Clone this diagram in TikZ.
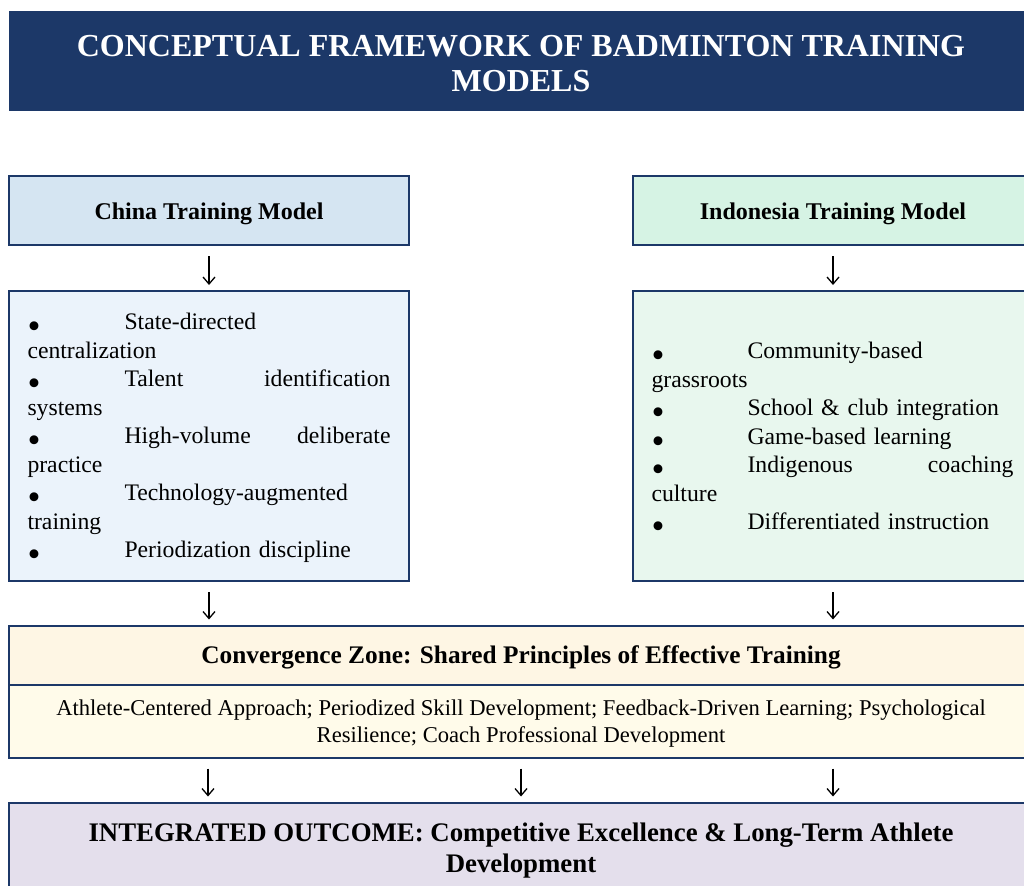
\documentclass[tikz,border=0pt]{standalone}
\usepackage{fontspec}
\setmainfont{Liberation Serif}
\usetikzlibrary{arrows.meta}

\definecolor{navy}{HTML}{1C3868}
\definecolor{chinahead}{HTML}{D5E5F2}
\definecolor{chinalist}{HTML}{EBF3FB}
\definecolor{indohead}{HTML}{D6F3E4}
\definecolor{indolist}{HTML}{E8F7EE}
\definecolor{convhead}{HTML}{FEF6E4}
\definecolor{convbody}{HTML}{FFFBEA}
\definecolor{outcome}{HTML}{E4DFEC}

\newcommand{\bul}[1]{\makebox[#1][l]{\smash{\raisebox{-9pt}{\fontsize{37}{0}\selectfont •}}}}
\newcommand{\jline}[1]{\makebox[266pt][s]{\spaceskip=0.25em plus 1fil\relax #1}}

\begin{document}
\begin{tikzpicture}[x=1pt,y=-1pt,
    box/.style={draw=navy, line width=2pt, inner sep=0pt, align=center},
    headbox/.style={box, minimum width=400pt, minimum height=69pt,
        text height=19pt, text depth=0pt, font=\bfseries\fontsize{24}{28}\selectfont},
    listbox/.style={box, minimum width=400pt, minimum height=290pt,
        text width=363pt, align=left, font=\fontsize{23.7}{28.5}\selectfont},
    widebox/.style={box, minimum width=1024pt},
    arrow/.style={-{Straight Barb[length=7pt,width=12pt]}, line width=1.3pt,
        shorten <=10pt, shorten >=5pt}]
    \useasboundingbox (0,0) rectangle (1024,885);

        \node[fill=navy, text=white, minimum width=1024pt, minimum height=100pt, align=center,
            text height=61pt, font=\bfseries\fontsize{32}{35}\selectfont] (Title) at (521,61)
            {CONCEPTUAL FRAMEWORK OF BADMINTON TRAINING\\MODELS};

        \node[headbox, fill=chinahead] (ChinaHead) at (209,210.5) {China Training Model};
        \node[headbox, fill=indohead] (IndoHead) at (833,210.5) {Indonesia Training Model};

        \node[listbox, fill=chinalist, text depth=229pt] (ChinaList) at (209,436)
            {\bul{97pt}State-directed\\
             centralization\\
             \bul{97pt}\jline{Talent identification}\\
             systems\\
             \bul{97pt}\jline{High-volume deliberate}\\
             practice\\
             \bul{97pt}Technology-augmented\\
             training\\
             \bul{97pt}Periodization discipline};
        \node[listbox, fill=indolist] (IndoList) at (833,436)
            {\bul{96pt}Community-based\\
             grassroots\\
             \bul{96pt}School \& club integration\\
             \bul{96pt}Game-based learning\\
             \bul{96pt}\jline{Indigenous coaching}\\
             culture\\
             \bul{96pt}Differentiated instruction};

        \node[widebox, fill=convhead, minimum height=59pt, text height=17.6pt, text depth=0pt,
            font=\bfseries\fontsize{25.3}{29}\selectfont] (ConvHead) at (521,655)
            {Convergence Zone: Shared Principles of Effective Training};
        \node[widebox, fill=convbody, minimum height=73pt, text depth=0pt,
            font=\fontsize{22.6}{27}\selectfont] (ConvBody) at (521,721)
            {Athlete-Centered Approach; Periodized Skill Development; Feedback-Driven Learning; Psychological\\
             Resilience; Coach Professional Development};

        \node[widebox, fill=outcome, minimum height=91pt, text depth=0pt,
            font=\bfseries\fontsize{26.8}{31}\selectfont] (Outcome) at (521,848)
            {INTEGRATED OUTCOME: Competitive Excellence \& Long-Term Athlete\\Development};

        \draw[arrow] (ChinaHead) -- (ChinaList);
        \draw[arrow] (IndoHead) -- (IndoList);
        \draw[arrow] (ChinaList) -- (ChinaList.south |- ConvHead.north);
        \draw[arrow] (IndoList) -- (IndoList.south |- ConvHead.north);
        \draw[arrow] ([xshift=-313pt]ConvBody.south) -- ([xshift=-313pt]Outcome.north);
        \draw[arrow] (ConvBody) -- (Outcome);
        \draw[arrow] ([xshift=312pt]ConvBody.south) -- ([xshift=312pt]Outcome.north);

    \end{tikzpicture}
\end{document}
